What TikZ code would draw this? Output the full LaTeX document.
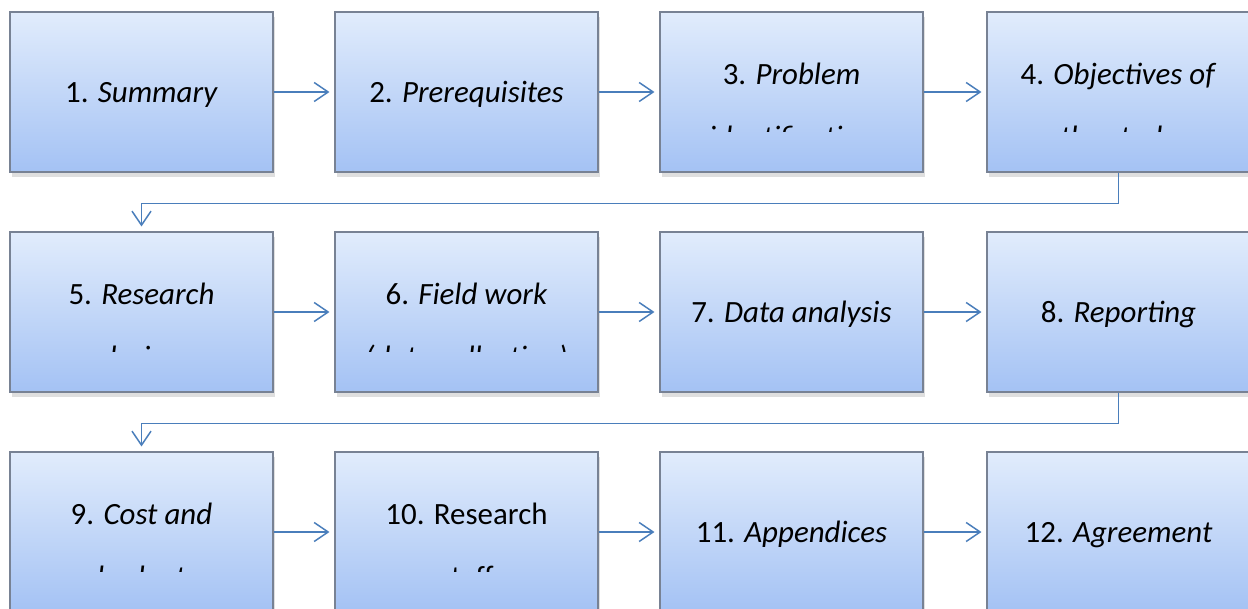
\documentclass[tikz,border=0pt]{standalone}
\usepackage{fontspec}
\setmainfont{Carlito}
\usetikzlibrary{arrows.meta,shadows}
\definecolor{boxtop}{RGB}{225,236,252}
\definecolor{boxbot}{RGB}{164,194,244}
\definecolor{boxline}{RGB}{120,130,148}
\definecolor{linkblue}{RGB}{74,126,187}
\begin{document}
\begin{tikzpicture}[
    stage/.style={rectangle, draw=boxline, line width=0.6pt, top color=boxtop, bottom color=boxbot, minimum width=5.26cm, minimum height=3.2cm, inner sep=0pt, text height=0.4cm, text depth=0pt, font=\fontsize{17.6}{21}\selectfont, drop shadow={shadow xshift=0.4mm, shadow yshift=-0.9mm, opacity=0.25}},
    txt/.style={anchor=base, inner sep=0pt, font=\fontsize{17.6}{21}\selectfont},
    arrow/.style={-{Straight Barb[length=2.8mm,width=3.8mm]}, line width=0.85pt, linkblue, shorten >=1mm}
]
\useasboundingbox (0,0) rectangle (24.96,-12.18);

% Row 1
\node[stage] (b1) at (2.83,-1.84) {1. \textit{Summary}};
\node[stage] (b2) at (9.33,-1.84) {2. \textit{Prerequisites}};
\node[stage] (b3) at (15.83,-1.84) {};
\node[stage] (b4) at (22.37,-1.84) {};

% Row 2
\node[stage] (b5) at (2.83,-6.24) {};
\node[stage] (b6) at (9.33,-6.24) {};
\node[stage] (b7) at (15.83,-6.24) {7. \textit{Data analysis}};
\node[stage] (b8) at (22.37,-6.24) {8. \textit{Reporting}};

% Row 3
\node[stage] (b9) at (2.83,-10.64) {};
\node[stage] (b10) at (9.33,-10.64) {};
\node[stage] (b11) at (15.83,-10.64) {11. \textit{Appendices}};
\node[stage] (b12) at (22.37,-10.64) {12. \textit{Agreement}};

% Two-line labels, second line cut off by the box
\node[txt] (t3) at ([yshift=-1.46cm]b3.north) {3. \textit{Problem}};
\node[txt] (t4) at ([yshift=-1.46cm]b4.north) {4. \textit{Objectives of}};
\node[txt] (t5) at ([yshift=-1.46cm]b5.north) {5. \textit{Research}};
\node[txt] (t6) at ([yshift=-1.46cm]b6.north) {6. \textit{Field work}};
\node[txt] (t9) at ([yshift=-1.46cm]b9.north) {9. \textit{Cost and}};
\node[txt] (t10) at ([yshift=-1.46cm]b10.north) {10. Research};

\begin{scope}
\clip ([yshift=-2.4cm]b3.north west) rectangle (b3.north east);
\node[txt] (u3) at ([yshift=-2.72cm]b3.north) {\textit{identification}};
\end{scope}
\begin{scope}
\clip ([yshift=-2.4cm]b4.north west) rectangle (b4.north east);
\node[txt] (u4) at ([yshift=-2.72cm]b4.north) {\textit{the study}};
\end{scope}
\begin{scope}
\clip ([yshift=-2.4cm]b5.north west) rectangle (b5.north east);
\node[txt] (u5) at ([yshift=-2.72cm]b5.north) {\textit{design}};
\end{scope}
\begin{scope}
\clip ([yshift=-2.4cm]b6.north west) rectangle (b6.north east);
\node[txt] (u6) at ([yshift=-2.72cm]b6.north) {\textit{(data collection)}};
\end{scope}
\begin{scope}
\clip ([yshift=-2.4cm]b9.north west) rectangle (b9.north east);
\node[txt] (u9) at ([yshift=-2.72cm]b9.north) {\textit{budget}};
\end{scope}
\begin{scope}
\clip ([yshift=-2.4cm]b10.north west) rectangle (b10.north east);
\node[txt] (u10) at ([yshift=-2.72cm]b10.north) {staff};
\end{scope}

% Arrows
\draw[arrow] (b1) -- (b2);
\draw[arrow] (b2) -- (b3);
\draw[arrow] (b3) -- (b4);
\draw[arrow] (b4.south) -- ++(0,-0.62) -| (b5.north);
\draw[arrow] (b5) -- (b6);
\draw[arrow] (b6) -- (b7);
\draw[arrow] (b7) -- (b8);
\draw[arrow] (b8.south) -- ++(0,-0.62) -| (b9.north);
\draw[arrow] (b9) -- (b10);
\draw[arrow] (b10) -- (b11);
\draw[arrow] (b11) -- (b12);

\end{tikzpicture}
\end{document}
